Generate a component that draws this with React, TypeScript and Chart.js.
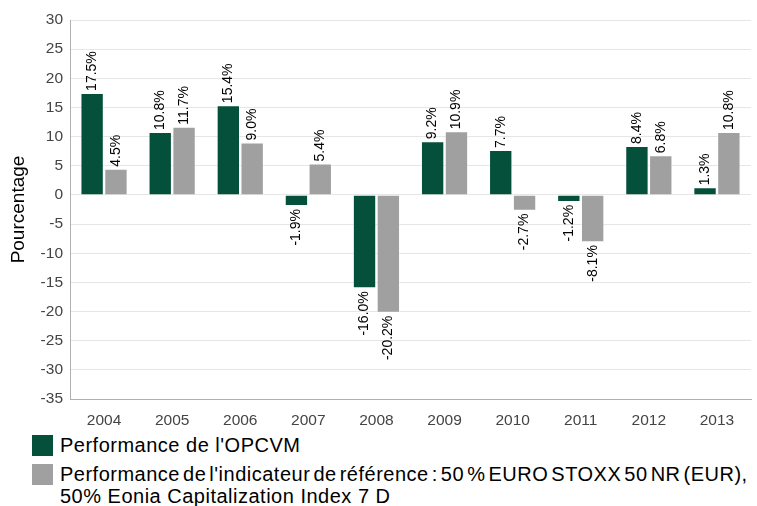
import React, { useEffect, useRef } from "react";
import { Chart, registerables } from "chart.js";

Chart.register(...registerables);

const years = ["2004", "2005", "2006", "2007", "2008", "2009", "2010", "2011", "2012", "2013"];
const opcvm = [17.5, 10.8, 15.4, -1.9, -16.0, 9.2, 7.7, -1.2, 8.4, 1.3];
const reference = [4.5, 11.7, 9.0, 5.4, -20.2, 10.9, -2.7, -8.1, 6.8, 10.8];
const legendLine1 = "Performance de l'OPCVM";
const legendLine2a = "Performance de l'indicateur de référence : 50 % EURO STOXX 50 NR (EUR),";
const legendLine2b = "50% Eonia Capitalization Index 7 D";
const yMin = -35;
const yMax = 30;
const yStep = 5;

const GREEN = "#04503b";
const GRAY = "#a0a0a0";
const FONT = "'Liberation Sans', Arial, sans-serif";

const labelPlugin = {
  id: "barLabels",
  afterDatasetsDraw(chart: any) {
    const ctx = chart.ctx;
    ctx.save();
    ctx.font = `14px ${FONT}`;
    ctx.fillStyle = "#000";
    ctx.textBaseline = "middle";
    chart.data.datasets.forEach((ds: any, di: number) => {
      const meta = chart.getDatasetMeta(di);
      meta.data.forEach((bar: any, i: number) => {
        const v = ds.data[i];
        const txt = v.toFixed(1) + "%";
        ctx.save();
        ctx.translate(bar.x, bar.y);
        ctx.rotate(-Math.PI / 2);
        if (v >= 0) {
          ctx.textAlign = "left";
          ctx.fillText(txt, 2, 0);
        } else {
          ctx.textAlign = "right";
          ctx.fillText(txt, -3, 0);
        }
        ctx.restore();
      });
    });
    ctx.restore();
  },
};

export default function App() {
  const ref = useRef<HTMLCanvasElement>(null);
  useEffect(() => {
    if (!ref.current) return;
    const chart = new Chart(ref.current, {
      type: "bar",
      data: {
        labels: years,
        datasets: [
          {
            label: legendLine1,
            data: opcvm,
            backgroundColor: GREEN,
            borderColor: "rgba(255,255,255,0.35)",
            borderWidth: 1,
            categoryPercentage: 0.7,
            barPercentage: 0.98,
          },
          {
            label: legendLine2a + " " + legendLine2b,
            data: reference,
            backgroundColor: GRAY,
            borderColor: "rgba(255,255,255,0.35)",
            borderWidth: 1,
            categoryPercentage: 0.7,
            barPercentage: 0.98,
          },
        ],
      },
      options: {
        animation: false,
        responsive: false,
        layout: { padding: { top: 20, right: 6, left: 0, bottom: 0 } },
        plugins: { legend: { display: false }, tooltip: { enabled: false } },
        scales: {
          x: {
            grid: { display: false },
            border: { color: "#b0b0b0" },
            ticks: { color: "#444", font: { size: 15.5, family: FONT }, padding: 4 },
            afterFit: (s: any) => {
              s.height = 26;
            },
          },
          y: {
            min: yMin,
            max: yMax,
            ticks: { stepSize: yStep, color: "#444", font: { size: 15.5, family: FONT }, padding: 7 },
            grid: { color: "#e6e6e6", drawTicks: false },
            border: { color: "#b0b0b0" },
            title: {
              display: true,
              text: "Pourcentage",
              color: "#000",
              font: { size: 19, family: FONT },
              padding: { top: 7, bottom: 0 },
            },
            afterFit: (s: any) => {
              s.width = 70;
            },
          },
        },
      },
      plugins: [labelPlugin],
    });
    return () => chart.destroy();
  }, []);

  const sq = (c: string) => (
    <span style={{ display: "inline-block", width: 21, height: 21, background: c, marginRight: 7, flex: "none" }} />
  );

  return (
    <div style={{ position: "absolute", left: 0, top: 0, width: 757, height: 506, overflow: "hidden", background: "#fff" }}>
      <canvas ref={ref} width={757} height={425} style={{ display: "block" }} />
      <div style={{ position: "absolute", left: 32, top: 435, fontFamily: FONT, fontSize: 20, color: "#000", lineHeight: "22px", letterSpacing: "0.5px" }}>
        <div style={{ display: "flex", alignItems: "flex-start", marginBottom: 8 }}>
          {sq(GREEN)}
          <span style={{ marginTop: -1 }}>{legendLine1}</span>
        </div>
        <div style={{ display: "flex", alignItems: "flex-start" }}>
          {sq(GRAY)}
          <span style={{ whiteSpace: "nowrap", marginTop: -1 }}>
            <span style={{ wordSpacing: -3 }}>{legendLine2a}</span>
            <br />
            {legendLine2b}
          </span>
        </div>
      </div>
    </div>
  );
}
